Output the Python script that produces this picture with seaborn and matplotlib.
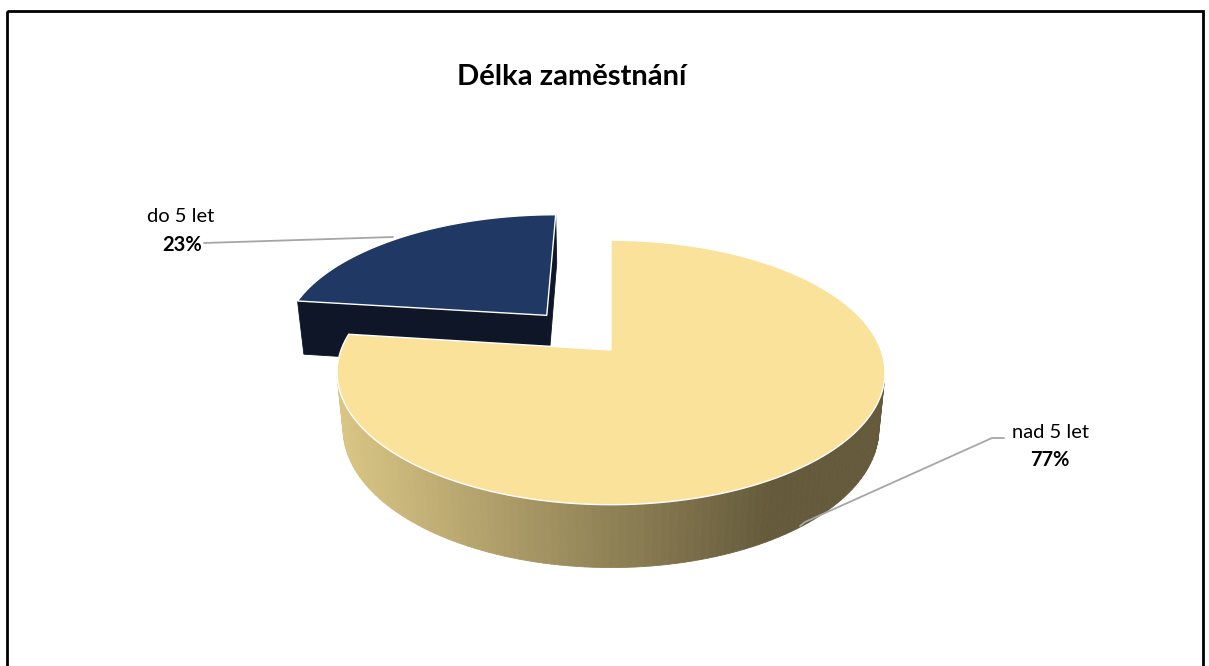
import numpy as np
import matplotlib
matplotlib.use("Agg")
import matplotlib.pyplot as plt
from matplotlib.patches import Polygon, Rectangle
import seaborn as sns

# ---- data ----
categories = ["do 5 let", "nad 5 let"]
values = [23, 77]
pct_labels = ["23%", "77%"]
explode = [0.377, 0.0]
title = "Délka zaměstnání"

top_colors = ["#1F3864", "#FAE29B"]
side_light = ["#0E1628", "#DAC685"]
side_dark = ["#0E1628", "#655A3B"]

sns.set_theme(style="white")
plt.rcParams['font.family'] = ['Lato', 'DejaVu Sans']

W, H = 1209, 666
fig = plt.figure(figsize=(W / 100, H / 100), dpi=100)
ax = fig.add_axes([0, 0, 1, 1])
ax.set_xlim(0, W)
ax.set_ylim(H, 0)
ax.axis('off')

# ---- 3D perspective projection of the pie ----
CX, CY, S = 611, 350, 270
theta = np.radians(28.4)
D = 5.18
T = 0.24


def proj(X, Z, Hh):
    sy = Z * np.sin(theta) + Hh * np.cos(theta)
    d = Z * np.cos(theta) - Hh * np.sin(theta)
    f = D / (D + d)
    return CX + S * X * f, CY - S * sy * f, d


def lerp_col(c1, c2, t):
    a = np.array(matplotlib.colors.to_rgb(c1))
    b = np.array(matplotlib.colors.to_rgb(c2))
    return tuple(a + (b - a) * t)


def signed_area(pts):
    x = pts[:, 0]
    y = pts[:, 1]
    return 0.5 * np.sum(x * np.roll(y, -1) - np.roll(x, -1) * y)


total = float(sum(values))
angles = np.cumsum([0] + [v / total * 360 for v in values]) + 90

for i in range(len(values)):
    a0, a1 = angles[i], angles[i + 1]
    mid = np.radians((a0 + a1) / 2)
    ox, oz = explode[i] * np.cos(mid), explode[i] * np.sin(mid)
    n = max(int((a1 - a0) / 1.5), 4)
    phis = np.radians(np.linspace(a0, a1, n))
    faces = []
    # outer arc quads
    for k in range(n - 1):
        p, q = phis[k], phis[k + 1]
        pts3 = [(ox + np.cos(p), oz + np.sin(p), 0), (ox + np.cos(q), oz + np.sin(q), 0),
                (ox + np.cos(q), oz + np.sin(q), -T), (ox + np.cos(p), oz + np.sin(p), -T)]
        pr = [proj(*pt) for pt in pts3]
        pts = np.array([[a, b] for a, b, _ in pr])
        depth = np.mean([c for _, _, c in pr])
        if signed_area(pts) <= 0:
            continue
        t = np.clip((pts[:, 0].mean() - 340) / (770 - 340), 0, 1)
        faces.append((depth, pts, lerp_col(side_light[i], side_dark[i], t)))
    # radial faces
    for a, sgn in ((phis[0], 1), (phis[-1], -1)):
        pts3 = [(ox, oz, 0), (ox + np.cos(a), oz + np.sin(a), 0),
                (ox + np.cos(a), oz + np.sin(a), -T), (ox, oz, -T)]
        pr = [proj(*pt) for pt in pts3]
        pts = np.array([[a_, b_] for a_, b_, _ in pr])
        depth = np.mean([c for _, _, c in pr])
        if sgn * signed_area(pts) < 0:
            continue
        col = side_light[i] if i == 0 else lerp_col(side_light[i], side_dark[i], 0.9)
        faces.append((depth, pts, col))
    faces.sort(key=lambda f: -f[0])
    for _, pts, col in faces:
        ax.add_patch(Polygon(pts, closed=True, facecolor=col, edgecolor=col, lw=0.6, zorder=2 + i))
    # top face
    top = [proj(ox, oz, 0)[:2]] + [proj(ox + np.cos(p), oz + np.sin(p), 0)[:2] for p in phis]
    ax.add_patch(Polygon(np.array(top), closed=True, facecolor=top_colors[i],
                         edgecolor="white", lw=1.0, zorder=2 + i))

# ---- labels & leader lines ----
ax.text(181, 217, categories[0], ha="center", va="center", fontsize=14.5, color="#000000", zorder=6)
ax.text(182, 245, pct_labels[0], ha="center", va="center", fontsize=14.5, fontweight="bold",
        color="#000000", zorder=6)
ax.plot([204, 393], [243, 237], color="#A6A6A6", lw=1.3, zorder=6)

ax.text(1050, 432, categories[1], ha="center", va="center", fontsize=14.5, color="#000000", zorder=6)
ax.text(1050, 460, pct_labels[1], ha="center", va="center", fontsize=14.5, fontweight="bold",
        color="#000000", zorder=6)
ax.plot([1004, 992, 805, 800], [438, 438, 522, 526], color="#A6A6A6", lw=1.3, zorder=6)

# ---- title ----
ax.text(572, 77, title, ha="center", va="center", fontsize=21, fontweight="bold", color="#000000")

# ---- chart border ----
ax.add_patch(Rectangle((7, 11), 1196, 700, fill=False, edgecolor="black", lw=2.0, zorder=10))

fig.savefig("out.png", dpi=100)
